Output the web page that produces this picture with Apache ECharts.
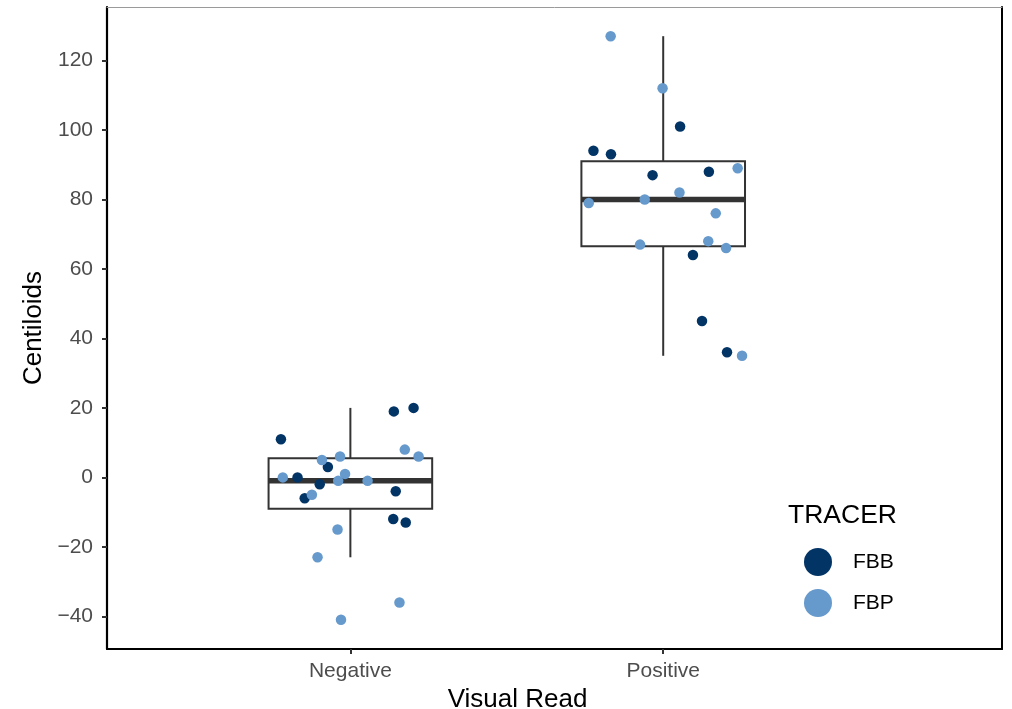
<!DOCTYPE html>
<html>
<head>
<meta charset="utf-8">
<script src="https://cdn.jsdelivr.net/npm/echarts@6/dist/echarts.min.js"></script>
<style>html,body{margin:0;padding:0;background:#fff}#c{width:1012px;height:709px}</style>
</head>
<body>
<div id="c"></div>
<script>
// ---- data ----
const categories = ['Negative', 'Positive'];
const yTicks = [-40, -20, 0, 20, 40, 60, 80, 100, 120];
const seriesNames = ['FBB', 'FBP'];

// Negative read, FBB tracer: values and horizontal jitter (category units)
const negFBB = [11, 19, 20, 3, 0, -2, -6, -4, -12, -13];
const negFBBJitter = [-0.222, 0.139, 0.202, -0.072, -0.169, -0.098, -0.146, 0.145, 0.137, 0.177];
// Negative read, FBP tracer
const negFBP = [8, 6, 5, 6, 0, 1, -1, -1, -5, -15, -23, -36, -41];
const negFBPJitter = [0.174, 0.218, -0.091, -0.033, -0.216, -0.017, -0.039, 0.055, -0.123, -0.041, -0.105, 0.157, -0.030];
// Positive read, FBB tracer
const posFBB = [101, 94, 93, 87, 88, 64, 45, 36];
const posFBBJitter = [0.054, -0.223, -0.167, -0.034, 0.146, 0.095, 0.124, 0.204];
// Positive read, FBP tracer
const posFBP = [127, 112, 89, 82, 80, 79, 76, 67, 68, 66, 35];
const posFBPJitter = [-0.168, -0.002, 0.238, 0.052, -0.059, -0.238, 0.168, -0.074, 0.144, 0.201, 0.252];

// Box statistics [lower whisker, Q1, median, Q3, upper whisker]
const negBox = [-23, -9, -1, 5.5, 20];
const posBox = [35, 66.5, 80, 91, 127];

// ---- build ----
const FBB_COLOR = '#033466';
const FBP_COLOR = '#6699CC';
const FONT = '"Liberation Sans", Arial, Helvetica, sans-serif';
const BOX_WIDTH = 0.523;

function pts(vals, jit, catIndex) {
  return vals.map((v, i) => [catIndex + 1 + jit[i], v]);
}
const fbbData = pts(negFBB, negFBBJitter, 0).concat(pts(posFBB, posFBBJitter, 1));
const fbpData = pts(negFBP, negFBPJitter, 0).concat(pts(posFBP, posFBPJitter, 1));
const boxData = [[1].concat(negBox), [2].concat(posBox)];

const chart = echarts.init(document.getElementById('c'), null, {renderer: 'canvas'});

function renderBox(params, api) {
  const x = api.value(0);
  const lo = api.value(1), q1 = api.value(2), md = api.value(3), q3 = api.value(4), hi = api.value(5);
  const pLo = api.coord([x, lo]), pQ1 = api.coord([x, q1]), pMd = api.coord([x, md]);
  const pQ3 = api.coord([x, q3]), pHi = api.coord([x, hi]);
  const left = api.coord([x - BOX_WIDTH / 2, md])[0];
  const right = api.coord([x + BOX_WIDTH / 2, md])[0];
  const stroke = '#333333';
  return {
    type: 'group',
    children: [
      {type: 'line', shape: {x1: pHi[0], y1: pHi[1], x2: pQ3[0], y2: pQ3[1]}, style: {stroke, lineWidth: 2}},
      {type: 'line', shape: {x1: pQ1[0], y1: pQ1[1], x2: pLo[0], y2: pLo[1]}, style: {stroke, lineWidth: 2}},
      {type: 'rect', shape: {x: left, y: pQ3[1], width: right - left, height: pQ1[1] - pQ3[1]}, style: {fill: '#ffffff', stroke, lineWidth: 2}},
      {type: 'line', shape: {x1: left, y1: pMd[1], x2: right, y2: pMd[1]}, style: {stroke, lineWidth: 5.5}}
    ]
  };
}

const option = {
  animation: false,
  backgroundColor: '#ffffff',
  textStyle: {fontFamily: FONT},
  title: {
    text: 'TRACER',
    left: 783,
    top: 497,
    textStyle: {fontFamily: FONT, fontSize: 26.5, fontWeight: 'normal', color: '#000000'}
  },
  legend: {
    orient: 'vertical',
    left: 799,
    top: 543,
    itemWidth: 28,
    itemHeight: 28,
    itemGap: 13,
    icon: 'circle',
    data: seriesNames,
    textStyle: {fontFamily: FONT, fontSize: 21, color: '#000000', padding: [0, 0, 0, 16]}
  },
  grid: {left: 107, right: 10, top: 7, bottom: 60, containLabel: false, outerBoundsMode: 'none'},
  xAxis: [{
    type: 'value',
    min: 0.222,
    max: 3.083,
    splitLine: {show: false},
    axisLine: {show: true, onZero: false, lineStyle: {color: '#000000', width: 2.2}},
    axisTick: {show: true, length: 5, customValues: [1, 2], lineStyle: {color: '#333333', width: 2}},
    axisLabel: {
      customValues: [1, 2],
      formatter: v => categories[Math.round(v) - 1] || '',
      fontFamily: FONT, fontSize: 21, color: '#4D4D4D', margin: 12
    },
    name: 'Visual Read',
    nameLocation: 'middle',
    nameGap: 35,
    nameTextStyle: {fontFamily: FONT, fontSize: 26, color: '#000000', padding: [0, 74, 0, 0]}
  }, {
    type: 'value',
    position: 'top',
    min: 0.222,
    max: 3.083,
    splitLine: {show: false},
    axisLine: {show: true, onZero: false, lineStyle: {color: '#9a9a9a', width: 1}},
    axisTick: {show: false},
    axisLabel: {show: false}
  }],
  yAxis: [{
    type: 'value',
    min: -49.4,
    max: 135.4,
    splitLine: {show: false},
    axisLine: {show: true, onZero: false, lineStyle: {color: '#000000', width: 2.2}},
    axisTick: {show: true, length: 5, customValues: yTicks, lineStyle: {color: '#333333', width: 2}},
    axisLabel: {
      customValues: yTicks,
      formatter: v => (v < 0 ? '\u2212' + Math.abs(v) : String(v)),
      fontFamily: FONT, fontSize: 21, color: '#4D4D4D', margin: 14
    },
    name: 'Centiloids',
    nameLocation: 'middle',
    nameGap: 55,
    nameTextStyle: {fontFamily: FONT, fontSize: 26, color: '#000000'}
  }, {
    type: 'value',
    position: 'right',
    min: -49.4,
    max: 135.4,
    splitLine: {show: false},
    axisLine: {show: true, onZero: false, lineStyle: {color: '#000000', width: 2}},
    axisTick: {show: false},
    axisLabel: {show: false}
  }],
  series: [{
    type: 'custom',
    name: 'box',
    xAxisIndex: 0,
    yAxisIndex: 0,
    renderItem: renderBox,
    encode: {x: 0, y: [1, 2, 3, 4, 5]},
    data: boxData,
    z: 1,
    silent: true
  }, {
    type: 'scatter',
    name: 'FBB',
    xAxisIndex: 0,
    yAxisIndex: 0,
    data: fbbData,
    symbolSize: 10.5,
    itemStyle: {color: FBB_COLOR, opacity: 1},
    z: 3
  }, {
    type: 'scatter',
    name: 'FBP',
    xAxisIndex: 0,
    yAxisIndex: 0,
    data: fbpData,
    symbolSize: 10.5,
    itemStyle: {color: FBP_COLOR, opacity: 1},
    z: 3
  }]
};
chart.setOption(option);
</script>
</body>
</html>
